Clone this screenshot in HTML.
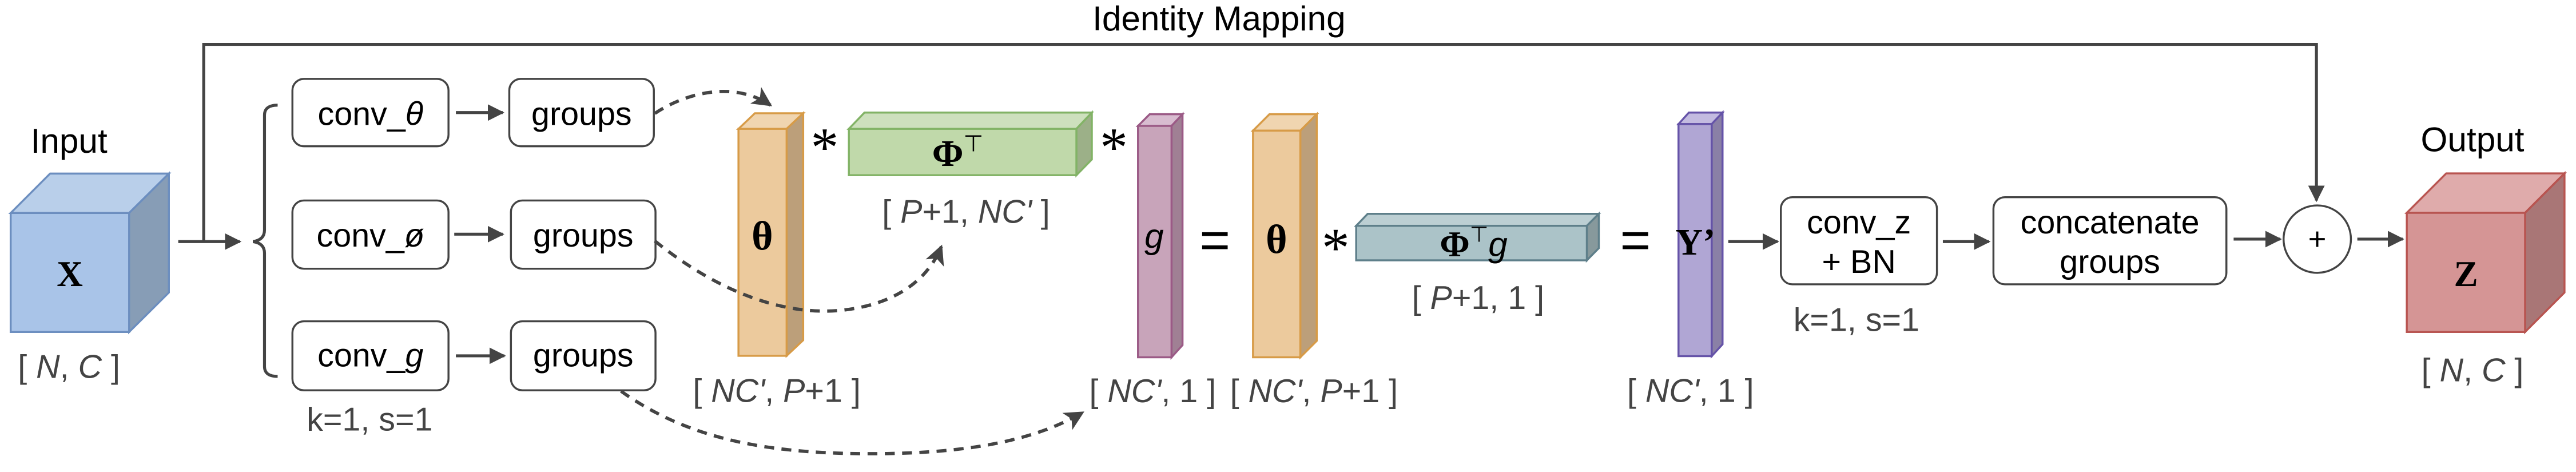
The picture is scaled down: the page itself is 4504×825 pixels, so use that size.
<!DOCTYPE html>
<html><head><meta charset="utf-8"><style>
html,body{margin:0;padding:0;background:#fff;}
svg{display:block;}
text{font-family:"Liberation Sans",sans-serif;}
.serif{font-family:"Liberation Serif",serif;}
</style></head><body>
<svg width="4504" height="825" viewBox="0 0 1568 287.2" preserveAspectRatio="none" xmlns="http://www.w3.org/2000/svg">
<defs>
<marker id="ah" viewBox="0 0 10 10" refX="9" refY="5" markerWidth="5.6" markerHeight="5.6" orient="auto" markerUnits="strokeWidth"><path d="M0,0 L10,5 L0,10 z" fill="#444"/></marker>
<marker id="ah2" viewBox="0 0 10 10" refX="9" refY="5" markerWidth="6" markerHeight="6" orient="auto" markerUnits="strokeWidth"><path d="M0,0 L10,5 L0,10 L2.5,5 z" fill="#444"/></marker>
</defs>

<text x="742" y="18.5" font-size="21" text-anchor="middle">Identity Mapping</text>
<path d="M124,147 V27 H1410 V122" fill="none" stroke="#444" stroke-width="1.8" marker-end="url(#ah)"/>

<text x="42" y="93" font-size="21" text-anchor="middle">Input</text>
<g stroke="#6c8ebf" stroke-width="1.2">
<polygon points="6.5,129.6 30.5,105.6 102.8,105.6 78.6,129.6" fill="#b9cfea"/>
<polygon points="78.6,129.6 102.8,105.6 102.8,178 78.6,202" fill="#879db6"/>
<rect x="6.5" y="129.6" width="72.1" height="72.4" fill="#a9c4e8"/>
</g>
<text x="42.5" y="174" font-size="22" font-weight="bold" text-anchor="middle" class="serif">X</text>
<text x="42" y="230" font-size="20" text-anchor="middle" fill="#444">[ <tspan font-style="italic">N</tspan>, <tspan font-style="italic">C</tspan> ]</text>
<path d="M108.5,147 H146" stroke="#444" stroke-width="1.8" marker-end="url(#ah)"/>

<path d="M169,64 Q161,64 161,70 V140 Q161,146 154,147 Q161,148 161,154 V223 Q161,229 169,229" fill="none" stroke="#444" stroke-width="1.8"/>

<g stroke="#444" stroke-width="1.2" fill="#fff">
<rect x="178" y="48" width="95" height="41" rx="7"/>
<rect x="178" y="122" width="95" height="41.5" rx="7"/>
<rect x="178" y="195.5" width="95" height="42" rx="7"/>
<rect x="310" y="48" width="88" height="41" rx="7"/>
<rect x="311" y="122" width="88" height="41.5" rx="7"/>
<rect x="311" y="195.5" width="88" height="42" rx="7"/>
</g>
<g font-size="20" text-anchor="middle">
<text x="225.5" y="76">conv_<tspan font-style="italic">θ</tspan></text>
<text x="225.5" y="150">conv_<tspan font-style="italic">ø</tspan></text>
<text x="225.5" y="223">conv_<tspan font-style="italic">g</tspan></text>
<text x="354" y="76">groups</text>
<text x="355" y="150">groups</text>
<text x="355" y="223">groups</text>
</g>
<g stroke="#444" stroke-width="1.8" marker-end="url(#ah)">
<path d="M277.5,68.5 H306"/>
<path d="M276.5,142.5 H306"/>
<path d="M277.5,216.5 H307"/>
</g>
<text x="225" y="262" font-size="20" text-anchor="middle" fill="#444">k=1, s=1</text>

<g stroke="#d79b47" stroke-width="1.2">
<polygon points="449.5,78.4 459.5,68.9 488.9,68.9 478.8,78.4" fill="#f0d5b0"/>
<polygon points="478.8,78.4 488.9,68.9 488.9,207 478.8,216.5" fill="#bc9f7a"/>
<rect x="449.5" y="78.4" width="29.3" height="138.1" fill="#ecca9d"/>
</g>
<text x="464" y="152" font-size="25" font-weight="bold" text-anchor="middle" class="serif">θ</text>
<text x="472.8" y="244.6" font-size="20" text-anchor="middle" fill="#444">[ <tspan font-style="italic">NC'</tspan>, <tspan font-style="italic">P</tspan>+1 ]</text>
<text x="502" y="101" font-size="34" text-anchor="middle" class="serif">*</text>

<g stroke="#82b366" stroke-width="1.2">
<polygon points="516.7,78.4 526.2,68.5 664.6,68.5 655.2,78.4" fill="#cde0bd"/>
<polygon points="655.2,78.4 664.6,68.5 664.6,97 655.2,106.6" fill="#9cb088"/>
<rect x="516.7" y="78.4" width="138.5" height="28.2" fill="#c0d9aa"/>
</g>
<text x="583" y="101" font-size="23" font-weight="bold" text-anchor="middle" class="serif">Φ<tspan font-weight="normal" font-size="14" dy="-9" font-family="Liberation Sans">⊤</tspan></text>
<text x="588" y="135.6" font-size="20" text-anchor="middle" fill="#444">[ <tspan font-style="italic">P</tspan>+1, <tspan font-style="italic">NC'</tspan> ]</text>
<text x="678" y="101" font-size="34" text-anchor="middle" class="serif">*</text>

<g stroke="#9b5a86" stroke-width="1.2">
<polygon points="692.7,76.6 699.8,69.5 719.8,69.5 713.1,76.6" fill="#d8bcd0"/>
<polygon points="713.1,76.6 719.8,69.5 719.8,210 713.1,217.4" fill="#a08094"/>
<rect x="692.7" y="76.6" width="20.4" height="140.8" fill="#c8a4ba"/>
</g>
<text x="702.5" y="151" font-size="21" font-style="italic" text-anchor="middle">g</text>
<text x="701.6" y="244.7" font-size="20" text-anchor="middle" fill="#444">[ <tspan font-style="italic">NC'</tspan>, 1 ]</text>
<text x="739.5" y="157" font-size="32" text-anchor="middle">=</text>

<g stroke="#d79b47" stroke-width="1.2">
<polygon points="762.7,79.5 772.7,69.5 801.5,69.5 791.5,79.5" fill="#f0d5b0"/>
<polygon points="791.5,79.5 801.5,69.5 801.5,207.4 791.5,217.4" fill="#bc9f7a"/>
<rect x="762.7" y="79.5" width="28.8" height="137.9" fill="#ecca9d"/>
</g>
<text x="777" y="154" font-size="25" font-weight="bold" text-anchor="middle" class="serif">θ</text>
<text x="799.8" y="244.7" font-size="20" text-anchor="middle" fill="#444">[ <tspan font-style="italic">NC'</tspan>, <tspan font-style="italic">P</tspan>+1 ]</text>
<text x="813" y="162" font-size="34" text-anchor="middle" class="serif">*</text>

<g stroke="#5e7f8a" stroke-width="1.2">
<polygon points="825.5,137.4 832.5,130.1 973.2,130.1 965.9,137.4" fill="#bccfd3"/>
<polygon points="965.9,137.4 973.2,130.1 973.2,151 965.9,158.4" fill="#87999c"/>
<rect x="825.5" y="137.4" width="140.4" height="21" fill="#abc3c8"/>
</g>
<text x="897" y="156" font-size="22" font-weight="bold" text-anchor="middle" class="serif">Φ<tspan font-weight="normal" font-size="13" dy="-9" font-family="Liberation Sans">⊤</tspan><tspan font-weight="normal" font-style="italic" font-family="Liberation Sans" font-size="21" dy="9">g</tspan></text>
<text x="899.7" y="188" font-size="20" text-anchor="middle" fill="#444">[ <tspan font-style="italic">P</tspan>+1, 1 ]</text>
<text x="995.5" y="157" font-size="32" text-anchor="middle">=</text>

<g stroke="#6553a8" stroke-width="1.2">
<polygon points="1021.7,75.5 1028,68.5 1048.5,68.5 1041.9,75.5" fill="#c3bbe0"/>
<polygon points="1041.9,75.5 1048.5,68.5 1048.5,209.5 1041.9,216.7" fill="#8a80a6"/>
<rect x="1021.7" y="75.5" width="20.2" height="141.2" fill="#b0a6d4"/>
</g>
<text x="1032" y="155" font-size="23" font-weight="bold" text-anchor="middle" class="serif">Y’</text>
<text x="1029" y="244.5" font-size="20" text-anchor="middle" fill="#444">[ <tspan font-style="italic">NC'</tspan>, 1 ]</text>

<g stroke="#444" stroke-width="1.2" fill="#fff">
<rect x="1084" y="120" width="95" height="53" rx="7"/>
<rect x="1213.4" y="120" width="141.8" height="53" rx="7"/>
<circle cx="1410.5" cy="145.5" r="20.5"/>
</g>
<g font-size="20" text-anchor="middle">
<text x="1131.5" y="142">conv_z</text>
<text x="1131.5" y="166">+ BN</text>
<text x="1284.3" y="142">concatenate</text>
<text x="1284.3" y="166">groups</text>
<text x="1410.5" y="152" font-size="19">+</text>
</g>
<text x="1130" y="201.4" font-size="20" text-anchor="middle" fill="#444">k=1, s=1</text>
<g stroke="#444" stroke-width="1.8" marker-end="url(#ah)">
<path d="M1052,147 H1082"/>
<path d="M1182.6,147 H1210.7"/>
<path d="M1359.6,145.5 H1388"/>
<path d="M1434.9,145.5 H1462.5"/>
</g>

<text x="1505" y="92" font-size="21" text-anchor="middle">Output</text>
<g stroke="#b85450" stroke-width="1.2">
<polygon points="1465,129.5 1489,105.5 1561,105.5 1537,129.5" fill="#dfabab"/>
<polygon points="1537,129.5 1561,105.5 1561,178 1537,202" fill="#a97676"/>
<rect x="1465" y="129.5" width="72" height="72.5" fill="#d59595"/>
</g>
<text x="1501" y="174" font-size="22" font-weight="bold" text-anchor="middle" class="serif">Z</text>
<text x="1505" y="232" font-size="20" text-anchor="middle" fill="#444">[ <tspan font-style="italic">N</tspan>, <tspan font-style="italic">C</tspan> ]</text>

<g fill="none" stroke="#444" stroke-width="2" stroke-dasharray="6,4.5" marker-end="url(#ah2)">
<path d="M398.6,69 C415,58 445,48 469,64"/>
<path d="M398.6,146.6 C430,172 470,192 510,189 C545,186 565,170 573,150"/>
<path d="M378,238 C420,268 470,277 540,276 C600,275 635,265 659,251"/>
</g>
</svg>
</body></html>
